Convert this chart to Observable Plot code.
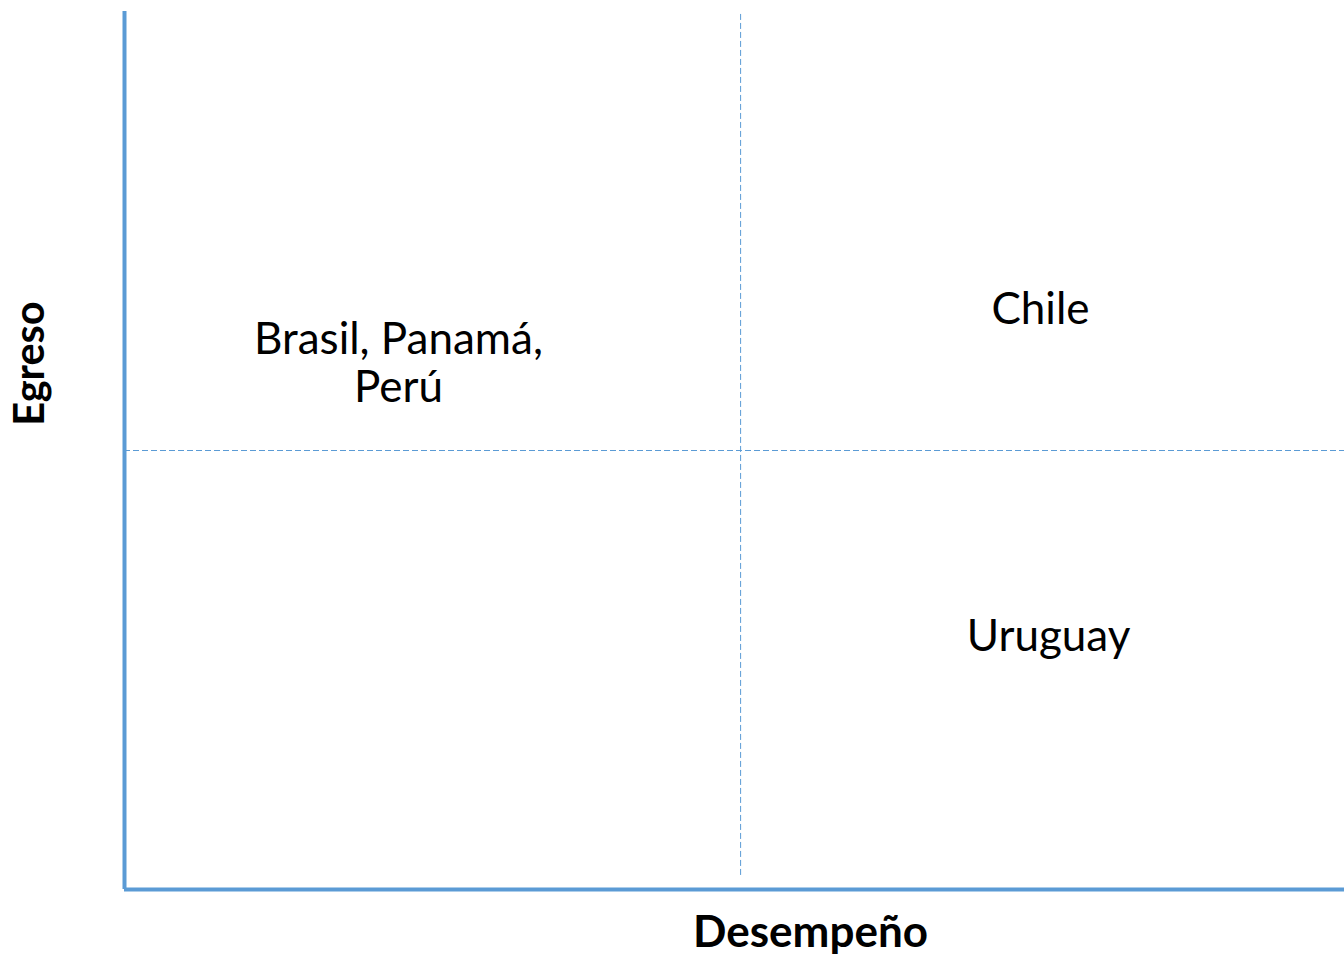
<!DOCTYPE html>
<html>
<head>
<meta charset="utf-8">
<script src="https://cdn.jsdelivr.net/npm/d3@7"></script>
<script src="https://cdn.jsdelivr.net/npm/@observablehq/plot@0.6"></script>
<style>
  html, body { margin: 0; padding: 0; background: #fff; }
</style>
</head>
<body>
<div id="chart"></div>
<script>
// Quadrant labels (countries) and their positions on the 0–100 scales
const quadrantLabels = ["Brasil, Panamá,\nPerú", "Chile", "Uruguay"];
const labelX = [22.46, 75.08, 75.74];
const labelY = [55.58, 64.46, 27.22];

// Divider lines between quadrants
const dividerX = [50.5];
const dividerY = [50];

// Axis titles
const xTitle = ["Desempeño"];
const yTitle = ["Egreso"];

const labels = quadrantLabels.map((t, i) => ({text: t, x: labelX[i], y: labelY[i]}));
const blue = "#5B9BD5";

const chart = Plot.plot({
  width: 1344,
  height: 957,
  marginLeft: 124,
  marginRight: 0,
  marginTop: 11,
  marginBottom: 68,
  x: {domain: [0, 100], axis: null},
  y: {domain: [0, 100], axis: null},
  style: {fontFamily: "Lato, 'Open Sans', sans-serif", background: "#fff", color: "#000"},
  marks: [
    Plot.ruleX(dividerX, {y1: 1.6, y2: 100, stroke: blue, strokeWidth: 1, strokeDasharray: "6,3"}),
    Plot.ruleY(dividerY, {x1: 0, x2: 100, stroke: blue, strokeWidth: 1, strokeDasharray: "6,3"}),
    Plot.ruleY([0], {x1: 0, x2: 100, stroke: blue, strokeWidth: 4}),
    Plot.ruleX([0], {y1: 0, y2: 100, stroke: blue, strokeWidth: 4}),
    Plot.text(labels, {x: "x", y: "y", text: "text", fontSize: 44, lineAnchor: "bottom", lineHeight: 1.07, fill: "#000"}),
    Plot.text(xTitle, {frameAnchor: "bottom", textAnchor: "middle", dx: 76, dy: 57, lineAnchor: "bottom", fontSize: 44, fontWeight: "bold", fill: "#000"}),
    Plot.text(yTitle, {frameAnchor: "left", textAnchor: "middle", dx: -81, dy: -87, rotate: -90, lineAnchor: "bottom", fontSize: 41.5, fontWeight: "bold", fill: "#000"})
  ]
});
document.getElementById("chart").appendChild(chart);
</script>
</body>
</html>
